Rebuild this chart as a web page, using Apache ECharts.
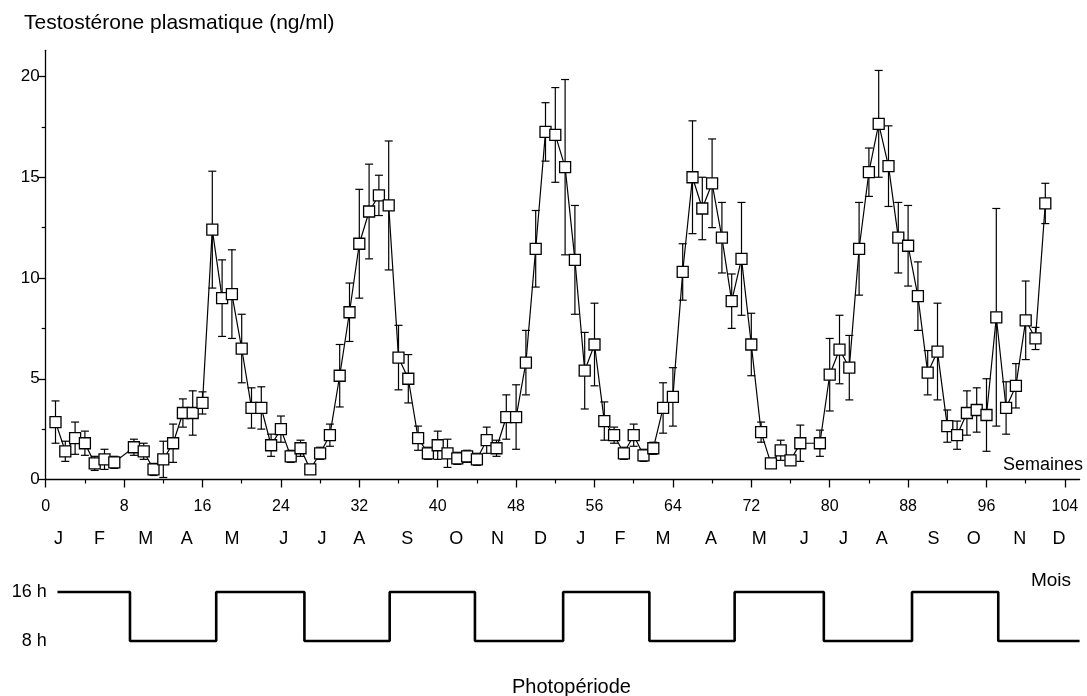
<!DOCTYPE html>
<html>
<head>
<meta charset="utf-8">
<script src="https://cdn.jsdelivr.net/npm/echarts@6/dist/echarts.min.js"></script>
<style>
html,body{margin:0;padding:0;background:#fff;}
#chart{width:1087px;height:696px;}
</style>
</head>
<body>
<div id="chart"></div>
<script>
// ---- data ----
const weeks = [1,2,3,4,5,6,7,9,10,11,12,13,14,15,16,17,18,19,20,21,22,23,24,25,26,27,28,29,30,31,32,33,34,35,36,37,38,39,40,41,42,43,44,45,46,47,48,49,50,51,52,53,54,55,56,57,58,59,60,61,62,63,64,65,66,67,68,69,70,71,72,73,74,75,76,77,79,80,81,82,83,84,85,86,87,88,89,90,91,92,93,94,95,96,97,98,99,100,101,102];
const testo = [2.85,1.4,2.05,1.8,0.8,1.0,0.85,1.6,1.4,0.5,1.0,1.8,3.3,3.3,3.8,12.4,9.0,9.2,6.5,3.55,3.55,1.7,2.5,1.15,1.55,0.5,1.3,2.2,5.15,8.3,11.7,13.3,14.1,13.6,6.05,5.0,2.05,1.3,1.7,1.3,1.05,1.15,1.0,1.95,1.55,3.1,3.1,5.8,11.45,17.25,17.1,15.5,10.9,5.4,6.7,2.9,2.2,1.3,2.2,1.2,1.55,3.55,4.1,10.3,15.0,13.45,14.7,12.0,8.85,10.95,6.7,2.35,0.8,1.45,0.95,1.8,1.8,5.2,6.45,5.55,11.45,15.25,17.65,15.55,12.0,11.6,9.1,5.3,6.35,2.65,2.2,3.3,3.45,3.2,8.05,3.55,4.65,7.9,7.0,13.7];
const sem = [1.05,0.5,0.8,0.6,0.35,0.5,0.3,0.4,0.4,0.3,0.9,0.95,0.7,1.1,0.55,2.9,1.9,2.2,1.7,1.0,1.05,0.55,0.65,0.3,0.4,0.2,0.3,0.55,1.55,1.45,2.7,2.35,1.0,3.2,1.6,1.2,0.6,0.3,0.7,0.7,0.3,0.3,0.3,0.65,0.4,1.1,1.6,1.6,1.9,1.45,2.35,4.35,2.7,1.9,2.05,0.95,0.4,0.3,0.55,0.3,0.3,1.25,1.45,1.4,2.8,1.55,2.2,1.75,1.35,2.8,1.55,0.5,0.2,0.5,0.2,0.9,0.65,1.8,1.7,1.6,2.3,1.2,2.65,2.0,1.75,2.0,1.7,1.1,2.4,0.8,0.7,1.1,1.1,1.8,5.4,1.3,1.1,1.95,0.55,1.0];

const weekTicks = [0,8,16,24,32,40,48,56,64,72,80,88,96,104];
const weekMinorTicks = [4,12,20,28,36,44,52,60,68,76,84,92,100];
const yTicks = [0,5,10,15,20];
const yMinorTicks = [2.5,7.5,12.5,17.5];

const monthLetters = ['J','F','M','A','M','J','J','A','S','O','N','D','J','F','M','A','M','J','J','A','S','O','N','D'];
const monthPos = [1.3,5.5,10.2,14.4,19.0,24.3,28.2,32.0,36.9,41.9,46.1,50.5,54.6,58.6,63.0,67.9,72.8,77.4,81.4,85.3,90.6,94.7,99.4,103.4];

const photoWeeks = [1.2,8.6,17.4,26.4,35.1,43.8,52.8,61.6,70.3,79.4,88.4,97.2,105.5];
const photoHours = [16,8,16,8,16,8,16,8,16,8,16,8,8];
const photoTicks = [8,16];

// ---- chart ----
const FONT = "'Liberation Sans', Arial, Helvetica, sans-serif";
const PXW = 9.8;           // px per week
const X0 = 45.7;
const XMAX = 105.5;
const Y0 = 479.5;
const PXV = 20.15;
const YMAX = 21.3;

const mainData = weeks.map((w, i) => [w, testo[i]]);
const errData = weeks.map((w, i) => [w, testo[i], sem[i]]);
const photoData = photoWeeks.map((w, i) => [w, photoHours[i]]);

const chart = echarts.init(document.getElementById('chart'), null, {renderer: 'canvas'});

const axisTxt = {color: '#000', fontFamily: FONT};
const plain = (size) => ({fontSize: size, fontWeight: 'normal', color: '#000', fontFamily: FONT});

const option = {
  animation: false,
  backgroundColor: '#fff',
  textStyle: {fontFamily: FONT, color: '#000'},
  title: [
    {text: 'Testostérone plasmatique (ng/ml)', left: 19, top: 8, textStyle: plain(21)},
    {text: 'Semaines', right: -1, top: 451, textStyle: plain(18)},
    {text: 'Mois', right: 11, top: 566, textStyle: plain(19)},
    {text: 'Photopériode', left: 507, top: 672, textStyle: plain(20)}
  ],
  grid: [
    {left: X0, top: Y0 - YMAX * PXV, width: XMAX * PXW, height: YMAX * PXV},
    {left: X0, top: 592, width: XMAX * PXW, height: 49}
  ],
  xAxis: [
    { // 0: main week axis
      type: 'value', gridIndex: 0, min: 0, max: XMAX, position: 'bottom',
      axisLine: {onZero: false, lineStyle: {color: '#000', width: 1.3}},
      axisTick: {show: true, length: 8, customValues: weekTicks, lineStyle: {color: '#000', width: 1.3}},
      axisLabel: {customValues: weekTicks, margin: 19, fontSize: 16, ...axisTxt},
      splitLine: {show: false}
    },
    { // 1: minor week ticks
      type: 'value', gridIndex: 0, min: 0, max: XMAX, position: 'bottom', offset: 0,
      axisLine: {show: false, onZero: false},
      axisTick: {show: true, length: 4, customValues: weekMinorTicks, lineStyle: {color: '#000', width: 1.2}},
      axisLabel: {show: false},
      splitLine: {show: false}
    },
    { // 2: months
      type: 'value', gridIndex: 0, min: 0, max: XMAX, position: 'bottom', offset: 34,
      axisLine: {show: false, onZero: false},
      axisTick: {show: false},
      axisLabel: {
        customValues: monthPos, margin: 17, fontSize: 18, ...axisTxt,
        formatter: function (v) {
          let best = 0, d = 1e9;
          monthPos.forEach((p, i) => { if (Math.abs(p - v) < d) { d = Math.abs(p - v); best = i; } });
          return monthLetters[best];
        }
      },
      splitLine: {show: false}
    },
    { // 3: photoperiod
      type: 'value', gridIndex: 1, min: 0, max: XMAX, position: 'bottom',
      axisLine: {show: false, onZero: false}, axisTick: {show: false}, axisLabel: {show: false},
      splitLine: {show: false}
    }
  ],
  yAxis: [
    { // 0: main
      type: 'value', gridIndex: 0, min: 0, max: YMAX, position: 'left',
      axisLine: {show: true, onZero: false, lineStyle: {color: '#000', width: 1.3}},
      axisTick: {show: true, length: 8, customValues: yTicks, lineStyle: {color: '#000', width: 1.3}},
      axisLabel: {customValues: yTicks, margin: 6, fontSize: 17, ...axisTxt},
      splitLine: {show: false}
    },
    { // 1: minor y ticks
      type: 'value', gridIndex: 0, min: 0, max: YMAX, position: 'left', offset: 0,
      axisLine: {show: false, onZero: false},
      axisTick: {show: true, length: 4, customValues: yMinorTicks, lineStyle: {color: '#000', width: 1.2}},
      axisLabel: {show: false},
      splitLine: {show: false}
    },
    { // 2: photoperiod
      type: 'value', gridIndex: 1, min: 8, max: 16, position: 'left',
      axisLine: {show: false, onZero: false}, axisTick: {show: false},
      axisLabel: {customValues: photoTicks, margin: -1, fontSize: 18, ...axisTxt,
                  formatter: v => v + ' h', verticalAlign: 'middle', padding: [0, 0, 8, 0]},
      splitLine: {show: false}
    }
  ],
  series: [
    {
      name: 'sem', type: 'custom', xAxisIndex: 0, yAxisIndex: 0, z: 2,
      data: errData,
      encode: {x: 0, y: 1},
      renderItem: function (params, api) {
        const x = api.value(0), y = api.value(1), e = api.value(2);
        const top = api.coord([x, y + e]);
        const bot = api.coord([x, y - e]);
        const cap = 4;
        const st = {stroke: '#000', lineWidth: 1.2, fill: null};
        return {
          type: 'group',
          children: [
            {type: 'line', shape: {x1: top[0], y1: top[1], x2: bot[0], y2: bot[1]}, style: st},
            {type: 'line', shape: {x1: top[0] - cap, y1: top[1], x2: top[0] + cap, y2: top[1]}, style: st},
            {type: 'line', shape: {x1: bot[0] - cap, y1: bot[1], x2: bot[0] + cap, y2: bot[1]}, style: st}
          ]
        };
      }
    },
    {
      name: 'testo', type: 'line', xAxisIndex: 0, yAxisIndex: 0, z: 3,
      data: mainData,
      symbol: 'rect', symbolSize: 11,
      lineStyle: {color: '#000', width: 1.2},
      itemStyle: {color: '#fff', borderColor: '#000', borderWidth: 1.3},
      emphasis: {disabled: true}
    },
    {
      name: 'photo', type: 'line', xAxisIndex: 3, yAxisIndex: 2,
      data: photoData, step: 'end', showSymbol: false, symbol: 'none',
      lineStyle: {color: '#000', width: 2.6},
      clip: false
    }
  ]
};
chart.setOption(option);
</script>
</body>
</html>
